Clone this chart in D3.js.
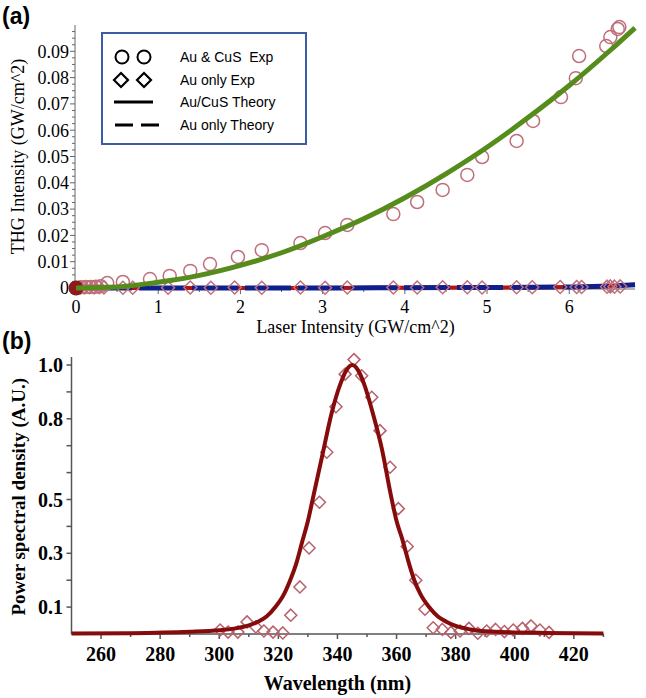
<!DOCTYPE html>
<html>
<head>
<meta charset="utf-8">
<script src="https://cdn.jsdelivr.net/npm/d3@7"></script>
<style>
  body { margin: 0; background: #fff; }
  svg { display: block; }
  text { white-space: pre; }
</style>
</head>
<body>
<svg id="chart" width="646" height="698"></svg>
<script>
// ---- panel (a): THG vs laser intensity ----
const cusExpX = [0, 0.06, 0.12, 0.18, 0.24, 0.3, 0.38, 0.57, 0.9, 1.14, 1.39, 1.63, 1.97, 2.26, 2.73, 3.03, 3.3, 3.86, 4.15, 4.46, 4.76, 4.94, 5.36, 5.56, 5.9, 6.08, 6.12, 6.45, 6.5, 6.59, 6.61];
const cusExpY = [0, 0.0003, 0.0004, 0.0004, 0.0005, 0.0007, 0.0019, 0.0023, 0.0034, 0.0046, 0.0065, 0.0091, 0.0118, 0.0144, 0.0171, 0.0209, 0.024, 0.0281, 0.0327, 0.0373, 0.043, 0.0498, 0.0559, 0.0635, 0.0726, 0.0798, 0.0882, 0.092, 0.0954, 0.0985, 0.0992];

const auExpX = [0.05, 0.1, 0.16, 0.22, 0.28, 0.34, 0.57, 0.69, 1.12, 1.39, 1.64, 1.93, 2.26, 2.73, 3.03, 3.3, 3.86, 4.15, 4.46, 4.76, 4.94, 5.36, 5.55, 5.89, 6.09, 6.15, 6.46, 6.5, 6.55, 6.62];
const auExpY = [0.0002, 0.0002, 0.0003, 0.0002, 0.0003, 0.0002, 0.0001, 0.0001, 0.0001, 0.0002, 0.0001, 0.0002, 0.0001, 0.0002, 0.0001, 0.0002, 0.0002, 0.0002, 0.0003, 0.0003, 0.0002, 0.0003, 0.0003, 0.0004, 0.0004, 0.0004, 0.0005, 0.0006, 0.0005, 0.0006];

const cusTheoryX = [0, 0.5, 1, 1.5, 2, 2.5, 3, 3.5, 4, 4.5, 5, 5.5, 6, 6.5, 6.8];
const cusTheoryY = [0, 0.0004, 0.0022, 0.0048, 0.0086, 0.0134, 0.0195, 0.0263, 0.0343, 0.0434, 0.0535, 0.0648, 0.077, 0.0904, 0.0989];

const auTheoryX = [0, 1, 2, 3, 4, 5, 6, 6.4, 6.8];
const auTheoryY = [0, 0, 0, 0, 0.0001, 0.0002, 0.0004, 0.0007, 0.0012];

const aTicksX = [0, 1, 2, 3, 4, 5, 6];
const aTicksY = [0, 0.01, 0.02, 0.03, 0.04, 0.05, 0.06, 0.07, 0.08, 0.09];

const legendNames = ["Au & CuS  Exp", "Au only Exp", "Au/CuS Theory", "Au only Theory"];

// ---- panel (b): spectrum ----
const specWl = [250, 270, 290, 300, 305, 310, 313, 316, 319, 322, 324, 326, 328, 330, 332, 335, 338, 341, 343, 345, 347, 349, 352, 355, 358, 360, 362, 364, 366, 368, 371, 374, 377, 380, 385, 390, 400, 410, 430];
const specPsd = [0.002, 0.003, 0.008, 0.014, 0.02, 0.032, 0.045, 0.065, 0.1, 0.15, 0.2, 0.26, 0.34, 0.42, 0.52, 0.67, 0.82, 0.93, 0.98, 1.0, 0.98, 0.93, 0.82, 0.69, 0.52, 0.42, 0.35, 0.27, 0.2, 0.15, 0.1, 0.065, 0.045, 0.03, 0.017, 0.01, 0.006, 0.004, 0.002];

const expWl = [300.3, 303.0, 306.3, 309.4, 312.4, 315.1, 318.2, 321.5, 324.2, 327.3, 330.4, 333.9, 336.4, 339.5, 342.6, 345.6, 348.2, 351.6, 354.4, 357.8, 360.6, 363.6, 366.5, 369.6, 372.4, 375.5, 378.4, 381.5, 384.5, 387.5, 390.5, 393.5, 396.5, 399.5, 402.6, 405.5, 408.5, 411.6];
const expPsd = [0.015, 0.007, 0.007, 0.045, 0.026, 0.011, 0.007, 0.004, 0.07, 0.175, 0.32, 0.49, 0.676, 0.845, 0.966, 1.02, 0.96, 0.88, 0.756, 0.62, 0.466, 0.325, 0.2, 0.092, 0.023, 0.017, 0.006, 0.011, 0.021, 0.003, 0.011, 0.017, 0.009, 0.015, 0.021, 0.03, 0.015, 0.006];

const bTicksX = [260, 280, 300, 320, 340, 360, 380, 400, 420];
const bTicksY = [0.1, 0.3, 0.5, 0.8, 1.0];

const svg = d3.select("#chart");
const serif = "'Liberation Serif', 'Times New Roman', serif";
const sans = "'Liberation Sans', Arial, sans-serif";
const rose = "#bf6f7b";

function diamond(g, cx, cy, r, stroke, sw) {
  g.append("path")
    .attr("d", `M${cx},${cy - r}L${cx + r},${cy}L${cx},${cy + r}L${cx - r},${cy}Z`)
    .attr("fill", "none").attr("stroke", stroke).attr("stroke-width", sw);
}

// ================= panel (a) =================
const xa = d3.scaleLinear().domain([0, 6.8]).range([76, 635]);
const ya = d3.scaleLinear().domain([0, 0.1]).range([288, 25]);
const ga = svg.append("g");

ga.append("text").attr("x", 2).attr("y", 24).text("(a)")
  .attr("font-family", sans).attr("font-weight", "bold").attr("font-size", 23);

// axes
const axA = ga.append("g").attr("stroke", "#666").attr("stroke-width", 1);
axA.append("line").attr("x1", xa(0) - 1).attr("x2", xa(0) - 1).attr("y1", ya(0)).attr("y2", 25);
axA.append("line").attr("x1", xa(0)).attr("x2", xa(6.8)).attr("y1", ya(0) + 1).attr("y2", ya(0) + 1);
d3.range(0, 0.0991, 0.0025).forEach((v, i) => {
  const len = i % 4 === 0 ? 5 : 3;
  axA.append("line").attr("x1", xa(0) - 1 - len).attr("x2", xa(0) - 1).attr("y1", ya(v)).attr("y2", ya(v));
});
d3.range(0, 6.81, 0.5).forEach((v, i) => {
  const len = i % 2 === 0 ? 5 : 3;
  axA.append("line").attr("x1", xa(v)).attr("x2", xa(v)).attr("y1", ya(0) + 1).attr("y2", ya(0) + 1 + len);
});

ga.selectAll(".ylab").data(aTicksY).join("text")
  .attr("x", 69).attr("y", d => ya(d)).attr("dy", "0.35em")
  .attr("text-anchor", "end").attr("font-family", serif).attr("font-size", 18)
  .text(d => d === 0 ? "0" : d3.format(".2f")(d));
ga.selectAll(".xlab").data(aTicksX).join("text")
  .attr("x", d => xa(d)).attr("y", 313)
  .attr("text-anchor", "middle").attr("font-family", serif).attr("font-size", 18)
  .text(d => d);

ga.append("text").attr("x", (xa(0) + xa(6.8)) / 2).attr("y", 333)
  .attr("text-anchor", "middle").attr("font-family", serif).attr("font-size", 18)
  .text("Laser Intensity (GW/cm^2)");
ga.append("text").attr("transform", `translate(24,${(ya(0) + 25) / 2}) rotate(-90)`)
  .attr("text-anchor", "middle").attr("font-family", serif).attr("font-size", 18)
  .text("THG Intensity (GW/cm^2)");

// theory lines
const lineA = d3.line().x(d => xa(d[0])).y(d => ya(d[1])).curve(d3.curveMonotoneX);
const auTheory = auTheoryX.map((x, i) => [x, auTheoryY[i]]);
const cusTheory = cusTheoryX.map((x, i) => [x, cusTheoryY[i]]);

ga.append("path").datum(auTheory).attr("d", lineA)
  .attr("fill", "none").attr("stroke", "#b31212").attr("stroke-width", 4);
ga.append("path").datum(auTheory).attr("d", lineA)
  .attr("fill", "none").attr("stroke", "#0f1f8c").attr("stroke-width", 5)
  .attr("stroke-dasharray", "46,7").attr("stroke-dashoffset", -10);

// au only diamonds
auExpX.forEach((x, i) => diamond(ga, xa(x), ya(auExpY[i]), 6.5, rose, 1.5));
// au & cus circles
ga.selectAll(".cus").data(cusExpX.map((x, i) => [x, cusExpY[i]])).join("circle")
  .attr("cx", d => xa(d[0])).attr("cy", d => ya(d[1])).attr("r", 6.5)
  .attr("fill", "none").attr("stroke", rose).attr("stroke-width", 1.5);
ga.append("circle").attr("cx", xa(0)).attr("cy", ya(0)).attr("r", 7.5).attr("fill", "#8e1b1b");

ga.append("path").datum(cusTheory).attr("d", lineA)
  .attr("fill", "none").attr("stroke", "#558c1c").attr("stroke-width", 5);

// legend
const lg = ga.append("g");
lg.append("rect").attr("x", 102).attr("y", 33).attr("width", 204).attr("height", 111)
  .attr("fill", "#fff").attr("stroke", "#3d5ca6").attr("stroke-width", 2);
const rowY = [57, 80, 102, 125];
lg.selectAll("text").data(legendNames).join("text")
  .attr("x", 180).attr("y", (d, i) => rowY[i]).attr("dy", "0.35em")
  .attr("font-family", sans).attr("font-size", 14).text(d => d);
[122, 144].forEach(cx => lg.append("circle").attr("cx", cx).attr("cy", rowY[0]).attr("r", 6.5)
  .attr("fill", "none").attr("stroke", "#000").attr("stroke-width", 2));
[121, 144].forEach(cx => diamond(lg, cx, rowY[1], 7, "#000", 2.2));
lg.append("line").attr("x1", 114).attr("x2", 153).attr("y1", rowY[2]).attr("y2", rowY[2])
  .attr("stroke", "#000").attr("stroke-width", 3);
lg.append("line").attr("x1", 115).attr("x2", 161).attr("y1", rowY[3]).attr("y2", rowY[3])
  .attr("stroke", "#000").attr("stroke-width", 3).attr("stroke-dasharray", "18,8");

// ================= panel (b) =================
const xb = d3.scaleLinear().domain([250, 430]).range([71.5, 603.4]);
const yb = d3.scaleLinear().domain([0, 1]).range([634, 365]);
const gb = svg.append("g");

gb.append("text").attr("x", 2).attr("y", 349).text("(b)")
  .attr("font-family", sans).attr("font-weight", "bold").attr("font-size", 23);

const axB = gb.append("g").attr("stroke", "#555").attr("stroke-width", 1.5);
axB.append("line").attr("x1", xb(250)).attr("x2", xb(250)).attr("y1", yb(0)).attr("y2", yb(1.03));
axB.append("line").attr("x1", xb(250)).attr("x2", xb(430)).attr("y1", yb(0)).attr("y2", yb(0));
d3.range(0.1, 1.01, 0.1).forEach(v => {
  axB.append("line").attr("x1", xb(250) - 5).attr("x2", xb(250)).attr("y1", yb(v)).attr("y2", yb(v));
});
d3.range(260, 431, 10).forEach((v, i) => {
  const len = i % 2 === 0 ? 5 : 3;
  axB.append("line").attr("x1", xb(v)).attr("x2", xb(v)).attr("y1", yb(0)).attr("y2", yb(0) + len);
});

gb.selectAll(".ylab").data(bTicksY).join("text")
  .attr("x", 63).attr("y", d => yb(d)).attr("dy", "0.35em")
  .attr("text-anchor", "end").attr("font-family", serif).attr("font-weight", "bold").attr("font-size", 20)
  .text(d => d3.format(".1f")(d));
gb.selectAll(".xlab").data(bTicksX).join("text")
  .attr("x", d => xb(d)).attr("y", 661)
  .attr("text-anchor", "middle").attr("font-family", serif).attr("font-weight", "bold").attr("font-size", 20)
  .text(d => d);

gb.append("text").attr("x", (xb(250) + xb(430)) / 2).attr("y", 690)
  .attr("text-anchor", "middle").attr("font-family", serif).attr("font-weight", "bold").attr("font-size", 20)
  .text("Wavelength (nm)");
gb.append("text").attr("transform", `translate(25,${(yb(0) + yb(1.02)) / 2}) rotate(-90)`)
  .attr("text-anchor", "middle").attr("font-family", serif).attr("font-weight", "bold").attr("font-size", 19)
  .text("Power spectral density (A.U.)");

expWl.forEach((x, i) => diamond(gb, xb(x), yb(expPsd[i]), 6, "#b8606c", 1.5));

const lineB = d3.line().x(d => xb(d[0])).y(d => yb(d[1])).curve(d3.curveMonotoneX);
gb.append("path").datum(specWl.map((x, i) => [x, specPsd[i]])).attr("d", lineB)
  .attr("fill", "none").attr("stroke", "#860c0c").attr("stroke-width", 4);
</script>
</body>
</html>
